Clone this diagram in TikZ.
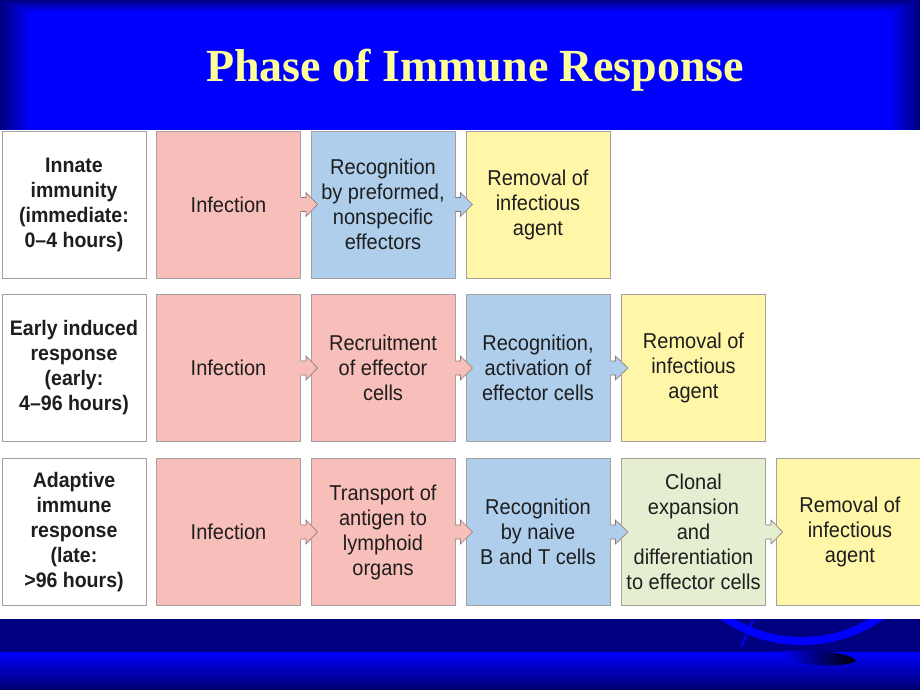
\documentclass[tikz,border=0pt]{standalone}
\usepackage{fontspec}
\setmainfont{Liberation Sans}
\newfontfamily\boxfont[FakeStretch=0.93]{Liberation Sans}
\newfontfamily\titlefont{Liberation Serif}
\usetikzlibrary{calc}
\definecolor{navyc}{RGB}{0,0,128}
\definecolor{bluec}{RGB}{0,0,255}
\definecolor{titlec}{RGB}{255,255,153}
\definecolor{pinkc}{RGB}{248,190,185}
\definecolor{bluebox}{RGB}{174,206,236}
\definecolor{yellowc}{RGB}{255,246,168}
\definecolor{greenc}{RGB}{229,238,208}
\definecolor{borderc}{RGB}{165,160,160}
\definecolor{textc}{RGB}{30,30,30}
\definecolor{arrline}{RGB}{140,120,120}
\tikzset{
  cell/.style={draw=borderc, line width=0.9pt, minimum width=144pt, minimum height=147pt,
    inner sep=0pt, align=center, text=textc, font=\boxfont\fontsize{21.5}{25}\selectfont},
  rowlabel/.style={cell, fill=white, font=\boxfont\bfseries\fontsize{21}{25}\selectfont},
}
\newcommand{\flowarr}[3]{%
  \fill[#3] ($(#1.east)+(-1,-7)$) -- ($(#1.east)+(5,-7)$) -- ($(#1.east)+(5,-12)$)
     -- ($(#2.west)+(7,0)$) -- ($(#1.east)+(5,12)$) -- ($(#1.east)+(5,7)$) -- ($(#1.east)+(-1,7)$) -- cycle;
  \draw[arrline, line width=0.6pt, line join=miter] ($(#1.east)+(0,-7)$) -- ($(#1.east)+(5,-7)$) -- ($(#1.east)+(5,-12)$)
     -- ($(#2.west)+(7,0)$) -- ($(#1.east)+(5,12)$) -- ($(#1.east)+(5,7)$) -- ($(#1.east)+(0,7)$);
}
\begin{document}
\begin{tikzpicture}[x=1pt,y=-1pt]
\useasboundingbox (0,0) rectangle (920,690);
\fill[white] (0,0) rectangle (920,690);
% top banner
\foreach \i [evaluate=\i as \pct using int(\i*5)] in {0,...,20}
  \fill[bluec!\pct!navyc] ({\i*1.5},{\i*0.6}) rectangle ({920-\i*1.5},130);
\node[font=\titlefont\bfseries\fontsize{46}{50}\selectfont, text=titlec] (title) at (475,70) {Phase of Immune Response};
% bottom band
\fill[navyc] (0,619) rectangle (920,652);
\shade[top color=bluec, bottom color=navyc!85!black] (0,652) rectangle (920,690);
\begin{scope}
  \clip (0,619) rectangle (920,652);
  \draw[bluec, line width=8pt] (802,503) circle[radius=138pt];
\end{scope}
\draw[bluec, line width=2pt] (753,620) -- (741,647);
\shade[left color=bluec, right color=black]
  (777,652) .. controls (800,649) and (848,650) .. (856,661) .. controls (846,668) and (792,668) .. (777,652) -- cycle;
% row 1
\node[rowlabel] (l1) at (74,204.5) {Innate\\immunity\\(immediate:\\0–4 hours)};
\node[cell, fill=pinkc] (a1) at (228.5,204.5) {Infection};
\node[cell, fill=bluebox] (a2) at (383,204.5) {Recognition\\by preformed,\\nonspecific\\effectors};
\node[cell, fill=yellowc] (a3) at (538,204.5) {Removal of\\infectious\\agent};
% row 2
\node[rowlabel] (l2) at (74,368) {Early induced\\response\\(early:\\4–96 hours)};
\node[cell, fill=pinkc] (b1) at (228.5,368) {Infection};
\node[cell, fill=pinkc] (b2) at (383,368) {Recruitment\\of effector\\cells};
\node[cell, fill=bluebox] (b3) at (538,368) {Recognition,\\activation of\\effector cells};
\node[cell, fill=yellowc] (b4) at (693.5,368) {Removal of\\infectious\\agent};
% row 3
\node[rowlabel] (l3) at (74,532) {Adaptive\\immune\\response\\(late:\\>96 hours)};
\node[cell, fill=pinkc] (c1) at (228.5,532) {Infection};
\node[cell, fill=pinkc] (c2) at (383,532) {Transport of\\antigen to\\lymphoid\\organs};
\node[cell, fill=bluebox] (c3) at (538,532) {Recognition\\by naive\\B and T cells};
\node[cell, fill=greenc] (c4) at (693.5,532) {Clonal\\expansion\\and\\differentiation\\to effector cells};
\node[cell, fill=yellowc, minimum width=148pt] (c5) at (850,532) {Removal of\\infectious\\agent};
% arrows
\flowarr{a1}{a2}{pinkc}
\flowarr{a2}{a3}{bluebox}
\flowarr{b1}{b2}{pinkc}
\flowarr{b2}{b3}{pinkc}
\flowarr{b3}{b4}{bluebox}
\flowarr{c1}{c2}{pinkc}
\flowarr{c2}{c3}{pinkc}
\flowarr{c3}{c4}{bluebox}
\flowarr{c4}{c5}{greenc}
\end{tikzpicture}
\end{document}
